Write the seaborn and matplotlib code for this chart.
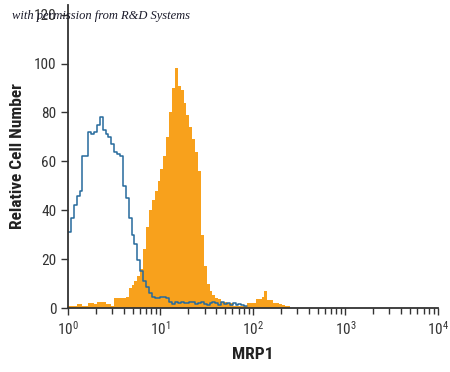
import numpy as np
import seaborn as sns
import matplotlib.pyplot as plt

# histogram channels, 32 per decade starting at 10^0
per_decade = 32

isotype = [31, 37, 42, 46, 48, 62, 62, 72, 71, 72,
           75, 78, 73, 71, 70, 67, 64, 63, 62, 50,
           45, 37, 30, 26, 19.7, 15, 11, 8.5, 6, 4.7,
           4, 4, 4.7, 4.5, 4, 2.6, 1.5, 2.6, 2, 2.6,
           2.2, 2, 2.6, 2.4, 1.6, 2.2, 2.6, 1.8, 1.4, 2.2,
           2.6, 2, 1.4, 2.4, 1.6, 2.2, 1.4, 2, 1.2, 1.6,
           1.2, 1]

mrp1 = [0.9, 0.9, 0.9, 1.5, 1.5, 0.9, 0.9, 2, 2, 1.5,
        2.3, 2.3, 2.5, 1.5, 1.5, 0.9, 4, 4, 4, 4.2,
        4.7, 8.2, 9.4, 11, 13, 16, 24, 33, 40, 44,
        48, 52, 57, 62, 70, 80, 90, 98, 91, 89,
        84, 79, 74, 69, 64, 56, 30, 17, 10, 7,
        5.3, 4, 3.5, 2.6, 2.6, 2, 2, 0.8, 0.8, 0.8,
        0.8, 0.8, 2, 2, 2, 3.7, 3.7, 4.7, 7, 3.3,
        3.3, 2, 2, 1.5, 1.2, 1, 0.8]

y_ticks = [0, 20, 40, 60, 80, 100, 120]
x_decades = [0, 1, 2, 3, 4]

sns.set_style('ticks')
plt.rcParams['font.family'] = ['Roboto Condensed', 'Liberation Sans', 'DejaVu Sans']
plt.rcParams['mathtext.default'] = 'regular'


def channel_centers(counts):
    return 10 ** ((np.arange(len(counts)) + 0.5) / per_decade)


fig = plt.figure(figsize=(4.5, 3.72), dpi=100)
ax = fig.add_axes([0.151, 0.172, 0.822, 0.815])

sns.histplot(x=channel_centers(mrp1), weights=np.array(mrp1, float),
             binwidth=1 / per_decade, binrange=(0, len(mrp1) / per_decade),
             log_scale=True, element='step', fill=True, color='#f8a11c',
             alpha=1, linewidth=0, ax=ax)
sns.histplot(x=channel_centers(isotype), weights=np.array(isotype, float),
             binwidth=1 / per_decade, binrange=(0, len(isotype) / per_decade),
             log_scale=True, element='step', fill=False, color='#266a9c',
             linewidth=1.1, ax=ax)

ax.set_xlim(1, 1e4)
ax.set_ylim(0, 124)
ax.set_yticks(y_ticks)
ax.set_xticks([10 ** d for d in x_decades])
ax.set_xticklabels([r'$10^{%d}$' % d for d in x_decades])
sns.despine(ax=ax)

ink = '#333333'
for s in ['left', 'bottom']:
    ax.spines[s].set_color(ink)
    ax.spines[s].set_linewidth(1.3)
ax.tick_params(axis='both', which='major', length=5, width=1, color=ink,
               labelcolor=ink, labelsize=11)
ax.tick_params(axis='x', which='minor', length=4, width=1, color=ink)

ax.set_xlabel('MRP1', fontsize=12.5, fontweight='bold', color='#222222', labelpad=7)
ax.set_ylabel('Relative Cell Number', fontsize=12.5, fontweight='bold',
              color='#222222', labelpad=6)

fig.text(0.027, 0.950, 'with permission from R&D Systems', fontsize=9,
         family='Liberation Serif', style='italic', color='#1a1a2a')

fig.savefig('out.png', dpi=100)
